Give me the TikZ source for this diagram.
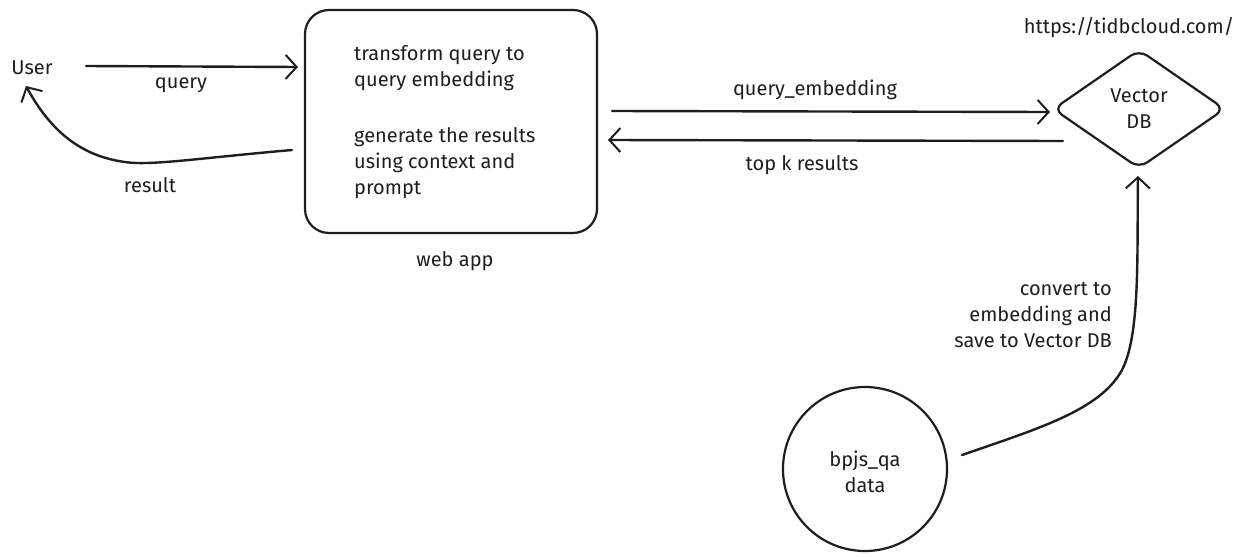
\documentclass[tikz,border=0pt]{standalone}
\usepackage{fontspec}
\setmainfont{Fira Sans}
\usetikzlibrary{arrows.meta,shapes.geometric,calc}
\definecolor{ink}{HTML}{1E1E1E}
\tikzset{
  lbl/.style={font=\fontsize{20}{26}\selectfont, text=ink, inner sep=0pt},
  conn/.style={draw=ink, line width=2.4pt, line cap=round, -{Straight Barb[length=11pt,width=24pt,line width=2pt]}},
  shapeline/.style={draw=ink, line width=2.2pt}
}
\begin{document}
\begin{tikzpicture}[x=1pt,y=-1pt]
\useasboundingbox[fill=white] (0,0) rectangle (1248,557);
% nodes
\node[lbl] (user) at (32,68) {User};
\node[shapeline, rounded corners=24pt, minimum width=292pt, minimum height=223pt, inner sep=0pt] (app) at (451,121.5) {};
\node[lbl, anchor=west, align=left] (t1) at (354,68.5) {transform query to\\query embedding};
\node[lbl, anchor=west, align=left] (t2) at (354,163) {generate the results\\using context and\\prompt};
\node[lbl] (weblbl) at (455,261) {web app};
\node[shapeline, diamond, rounded corners=10pt, minimum width=172pt, minimum height=119pt, inner sep=0pt] (db) at (1139,109) {};
\node[lbl, align=center] (dbtxt) at (1139,109) {Vector\\DB};
\node[lbl] (url) at (1129,28) {https://tidbcloud.com/};
\node[shapeline, circle, minimum size=164pt, inner sep=0pt] (data) at (865,469) {};
\node[lbl, align=center] (datatxt) at (865,472) {bpjs\_qa\\data};
% connector end points
\coordinate (qs) at (86,66);
\coordinate (qe) at (298,67);
\coordinate (rs) at (292,150);
\coordinate (re) at (26,86);
\coordinate (es) at (612,111);
\coordinate (ee) at (1050,112);
\coordinate (ks) at (1063,141);
\coordinate (ke) at (608,140);
\coordinate (cs) at (962,455);
\coordinate (ce) at (1138,176);
% connectors
\draw[conn] (qs) -- (qe);
\node[lbl] (qlbl) at (181,85) {query};
\draw[conn] (rs) .. controls (200,158) and (150,166) .. (125,162) .. controls (80,156) and (50,130) .. (re);
\node[lbl] (rlbl) at (150,185) {result};
\draw[conn] (es) -- (ee);
\node[lbl] (elbl) at (815,90) {query\_embedding};
\draw[conn] (ks) -- (ke);
\node[lbl] (klbl) at (802,165) {top k results};
\draw[conn] (cs) .. controls (1040,428) and (1100,410) .. (1122,370) .. controls (1140,335) and (1137,260) .. (ce);
\node[lbl, anchor=east, align=right] (clbl) at (1112,315) {convert to\\embedding and\\save to Vector DB};
\end{tikzpicture}
\end{document}
